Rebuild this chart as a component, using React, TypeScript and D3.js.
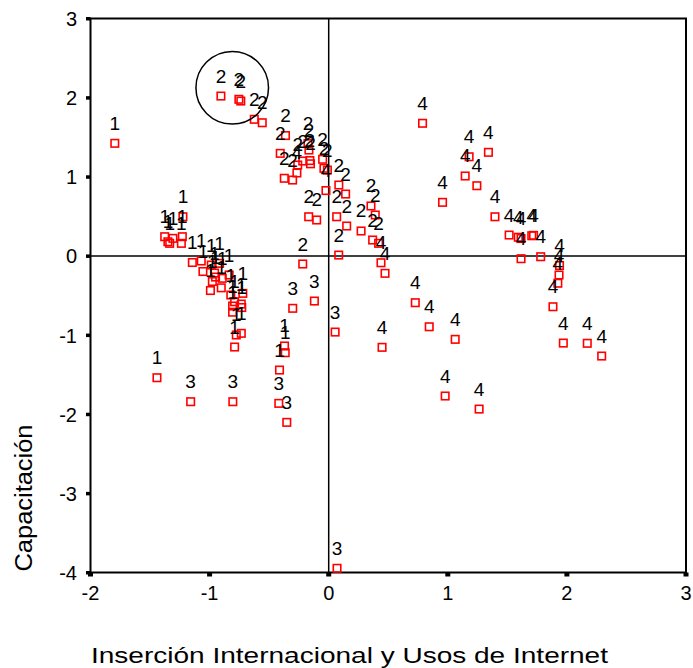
import React from 'react';
import * as d3 from 'd3';

const xTicks = [-2, -1, 0, 1, 2, 3];
const yTicks = [-4, -3, -2, -1, 0, 1, 2, 3];

const group1: [number, number][] = [
  [-1.796, 1.423], [-1.224, 0.495], [-1.377, 0.243], [-1.35, 0.179], [-1.335, 0.159],
  [-1.308, 0.222], [-1.229, 0.243], [-1.237, 0.159], [-1.145, -0.083], [-1.07, -0.064],
  [-1.056, -0.197], [-0.986, -0.115], [-0.916, -0.094], [-0.958, -0.216], [-0.95, -0.267],
  [-0.977, -0.323], [-0.993, -0.437], [-0.902, -0.403], [-0.894, -0.283], [-0.836, -0.241],
  [-0.822, -0.494], [-0.807, -0.633], [-0.79, -0.579], [-0.721, -0.473], [-0.734, -0.608],
  [-0.73, -0.652], [-0.807, -0.711], [-0.776, -0.999], [-0.734, -0.978], [-0.79, -1.151],
  [-0.371, -1.138], [-0.365, -1.223], [-0.413, -1.442], [-1.442, -1.539],
];

const group2: [number, number][] = [
  [-0.905, 2.02], [-0.754, 1.979], [-0.738, 1.957], [-0.625, 1.726], [-0.558, 1.683],
  [-0.363, 1.521], [-0.407, 1.296], [-0.174, 1.42], [-0.166, 1.338], [-0.373, 0.981],
  [-0.303, 0.959], [-0.26, 1.149], [-0.218, 1.199], [-0.158, 1.205], [-0.153, 1.164],
  [-0.051, 1.221], [-0.04, 1.107], [-0.011, 1.085], [0.085, 0.896], [0.142, 0.782],
  [-0.168, 0.495], [-0.101, 0.454], [0.067, 0.495], [0.151, 0.378], [0.355, 0.631],
  [0.391, 0.517], [0.272, 0.315], [0.369, 0.201], [0.419, 0.159], [0.084, 0.011],
  [-0.218, -0.102],
];

const group3: [number, number][] = [
  [-1.159, -1.842], [-0.805, -1.842], [-0.419, -1.863], [-0.352, -2.103], [-0.302, -0.662],
  [-0.12, -0.57], [0.054, -0.962], [0.07, -3.947],
];

const group4: [number, number][] = [
  [-0.267, 1.048], [-0.023, 0.826], [0.439, -0.086], [0.473, -0.22], [0.448, -1.155],
  [0.727, -0.591], [0.844, -0.895], [1.062, -1.054], [0.978, -1.77], [1.263, -1.935],
  [0.788, 1.676], [1.341, 1.309], [1.179, 1.253], [1.146, 1.01], [1.244, 0.887],
  [0.956, 0.677], [1.396, 0.495], [1.515, 0.264], [1.592, 0.236], [1.615, 0.22],
  [1.705, 0.255], [1.72, 0.26], [1.615, -0.035], [1.78, -0.01], [1.938, -0.121],
  [1.934, -0.241], [1.924, -0.345], [1.883, -0.642], [1.97, -1.101], [2.171, -1.104],
  [2.292, -1.265],
];

const groups = [
  { label: '1', points: group1 },
  { label: '2', points: group2 },
  { label: '3', points: group3 },
  { label: '4', points: group4 },
];

const highlight = { x: -0.81, y: 2.125, r: 36.3 };

const xTitle = 'Inserción Internacional y Usos de Internet';
const yTitle = 'Capacitación';

export default function App() {
  const W = 693, H = 668;
  const left = 90.5, right = 686, top = 18.5, bottom = 572.5;
  const x = d3.scaleLinear().domain([-2, 3]).range([left, right]);
  const y = d3.scaleLinear().domain([-4, 3]).range([bottom, top]);
  const font = 'Arial, "Liberation Sans", Helvetica, sans-serif';
  const all = groups.flatMap((g) => g.points.map((p) => ({ label: g.label, p })));
  const s = 7.5;
  return (
    <svg width={W} height={H} style={{ position: 'absolute', left: 0, top: 0, background: '#fff' }} fontFamily={font}>
      <rect x={0} y={0} width={W} height={H} fill="#fff" />
      {/* zero lines */}
      <line x1={x(0)} x2={x(0)} y1={top} y2={bottom} stroke="#000" strokeWidth={1.5} />
      <line x1={left} x2={right} y1={y(0)} y2={y(0)} stroke="#000" strokeWidth={1.5} />
      {/* frame */}
      <rect x={left} y={top} width={right - left} height={bottom - top} fill="none" stroke="#000" strokeWidth={2} />
      {/* ticks */}
      {xTicks.map((t) => (
        <g key={'xt' + t}>
          <rect x={x(t) - 2.5} y={bottom} width={5} height={4} fill="#000" />
          <text x={x(t)} y={600} fontSize={20} textAnchor="middle" fill="#000">{t}</text>
        </g>
      ))}
      {yTicks.map((t) => (
        <g key={'yt' + t}>
          <rect x={left - 4.5} y={y(t) - 1.5} width={4.5} height={3.5} fill="#000" />
          <text x={77} y={y(t) + 7.5} fontSize={20} textAnchor="end" fill="#000">{t}</text>
        </g>
      ))}
      {/* markers */}
      {all.map((d, i) => (
        <rect key={'m' + i} x={x(d.p[0]) - s / 2} y={y(d.p[1]) - s / 2} width={s} height={s}
          fill="none" stroke="#ff0000" strokeWidth={1.6} />
      ))}
      {all.map((d, i) => (
        <text key={'l' + i} x={x(d.p[0])} y={y(d.p[1]) - 13.5} fontSize={19} textAnchor="middle" fill="#000">{d.label}</text>
      ))}
      <circle cx={x(highlight.x)} cy={y(highlight.y)} r={highlight.r} fill="none" stroke="#000" strokeWidth={1.5} />
      {/* titles */}
      <text x={91} y={663} fontSize={22} textLength={517} lengthAdjust="spacingAndGlyphs" fill="#000">{xTitle}</text>
      <text transform={`translate(32,498) rotate(-90)`} fontSize={23} textAnchor="middle" textLength={147} lengthAdjust="spacingAndGlyphs" fill="#000">{yTitle}</text>
    </svg>
  );
}
